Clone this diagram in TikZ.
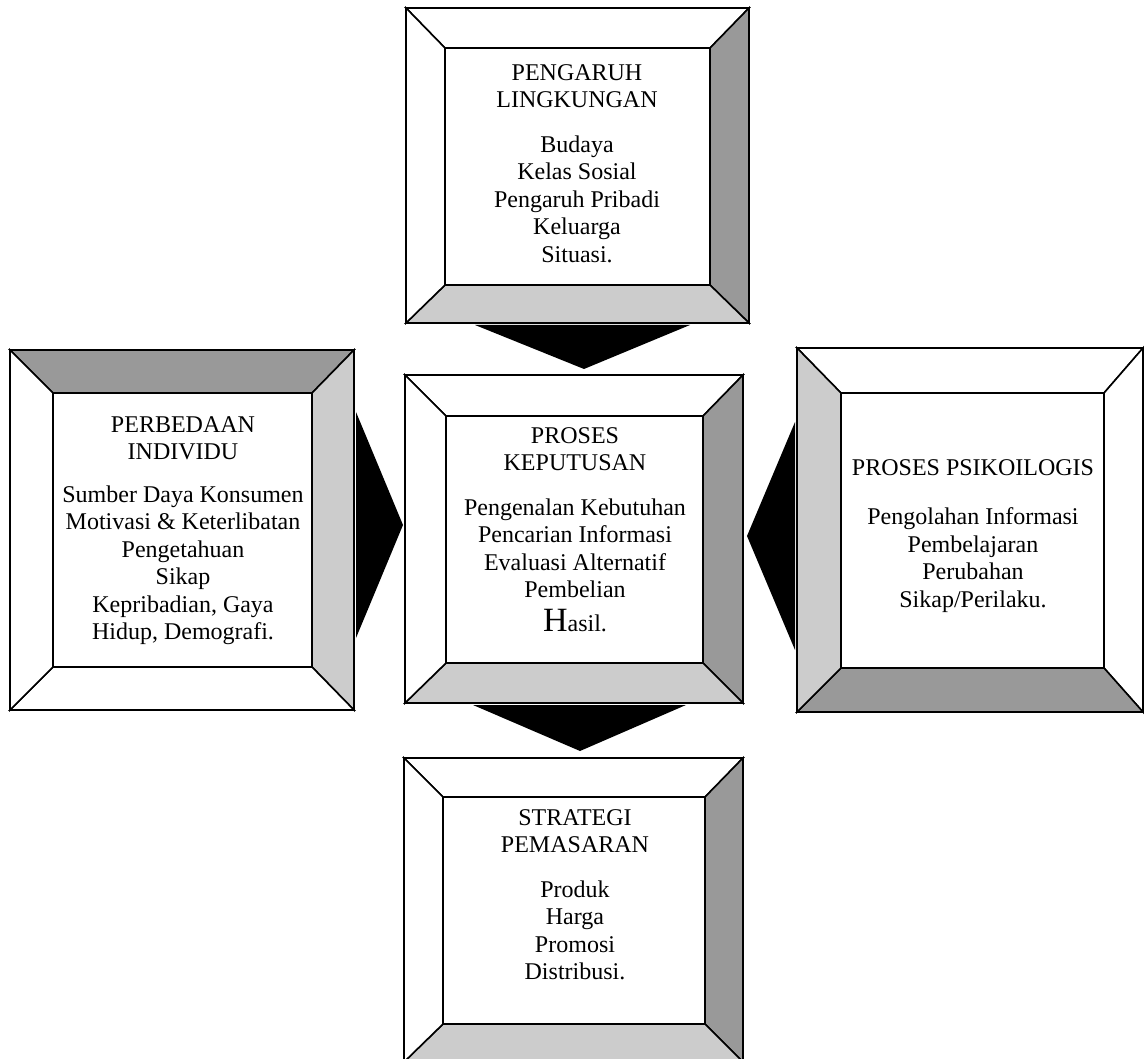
\documentclass[tikz,border=0pt]{standalone}
\usepackage{fontspec}
\setmainfont{Liberation Serif}
\definecolor{darkshade}{HTML}{999999}
\definecolor{lightshade}{HTML}{CCCCCC}
\tikzset{
  bevelline/.style={draw=black, line width=1.6pt, line join=miter},
  boxtext/.style={align=center, inner sep=0pt, anchor=north,
    font=\fontsize{24}{27.5}\selectfont},
  pointer/.style={fill=black},
}
% #1 box name, then fills of top, right, bottom, left bevel
\newcommand{\bevelbox}[5]{%
  \filldraw[bevelline, fill=#2] (#1A) -- (#1B|-#1A) -- (#1D|-#1C) -- (#1C) -- cycle;
  \filldraw[bevelline, fill=#3] (#1B|-#1A) -- (#1B) -- (#1D) -- (#1D|-#1C) -- cycle;
  \filldraw[bevelline, fill=#4] (#1B) -- (#1A|-#1B) -- (#1C|-#1D) -- (#1D) -- cycle;
  \filldraw[bevelline, fill=#5] (#1A|-#1B) -- (#1A) -- (#1C) -- (#1C|-#1D) -- cycle;
  \filldraw[bevelline, fill=white] (#1C) rectangle (#1D);
}
\begin{document}
\begin{tikzpicture}[x=1pt, y=-1pt]
  \useasboundingbox (0,0) rectangle (1144,1059);
  \clip (0,0) rectangle (1144,1059);
  % outer (A,B) and inner (C,D) corners
  \coordinate (lingA) at (406,8);    \coordinate (lingB) at (749,323);
  \coordinate (lingC) at (445,48);   \coordinate (lingD) at (710,285);
  \coordinate (kepA) at (405,375);   \coordinate (kepB) at (743,703);
  \coordinate (kepC) at (446,416);   \coordinate (kepD) at (703,663);
  \coordinate (indA) at (10,350);    \coordinate (indB) at (354,710);
  \coordinate (indC) at (53,393);    \coordinate (indD) at (312,667);
  \coordinate (psiA) at (797,348);   \coordinate (psiB) at (1143,712);
  \coordinate (psiC) at (841,393);   \coordinate (psiD) at (1104,668);
  \coordinate (strA) at (404,758);   \coordinate (strB) at (743,1062);
  \coordinate (strC) at (443,797);   \coordinate (strD) at (705,1024);

  % arrows
  \fill[pointer] (475,325) -- (690,325) -- (584,369) -- cycle;
  \fill[pointer] (473,705) -- (686,705) -- (580,751) -- cycle;
  \fill[pointer] (356,412) -- (403,525) -- (356,638) -- cycle;
  \fill[pointer] (795,422) -- (747,536) -- (795,650) -- cycle;

  % boxes
  \bevelbox{ling}{white}{darkshade}{lightshade}{white}
  \bevelbox{kep}{white}{darkshade}{lightshade}{white}
  \bevelbox{ind}{darkshade}{lightshade}{white}{white}
  \bevelbox{psi}{white}{white}{darkshade}{lightshade}
  \bevelbox{str}{white}{darkshade}{lightshade}{white}

  % texts
  \node[boxtext] (ling) at (577,64) {PENGARUH\\LINGKUNGAN\\[17pt]
    Budaya\\Kelas Sosial\\Pengaruh Pribadi\\Keluarga\\Situasi.};
  \node[boxtext] (kep) at (575,427) {PROSES\\KEPUTUSAN\\[17pt]
    Pengenalan Kebutuhan\\Pencarian Informasi\\Evaluasi Alternatif\\Pembelian\\[6.5pt]
    {\fontsize{34}{34}\selectfont H}asil.};
  \node[boxtext] (ind) at (183,416) {PERBEDAAN\\INDIVIDU\\[15pt]
    Sumber Daya Konsumen\\Motivasi \& Keterlibatan\\Pengetahuan\\Sikap\\
    Kepribadian, Gaya\\Hidup, Demografi.};
  \node[boxtext] (psi) at (973,459) {PROSES PSIKOILOGIS\\[22pt]
    Pengolahan Informasi\\Pembelajaran\\Perubahan\\Sikap/Perilaku.};
  \node[boxtext] (str) at (575,809) {STRATEGI\\PEMASARAN\\[17pt]
    Produk\\Harga\\Promosi\\Distribusi.};
\end{tikzpicture}
\end{document}
